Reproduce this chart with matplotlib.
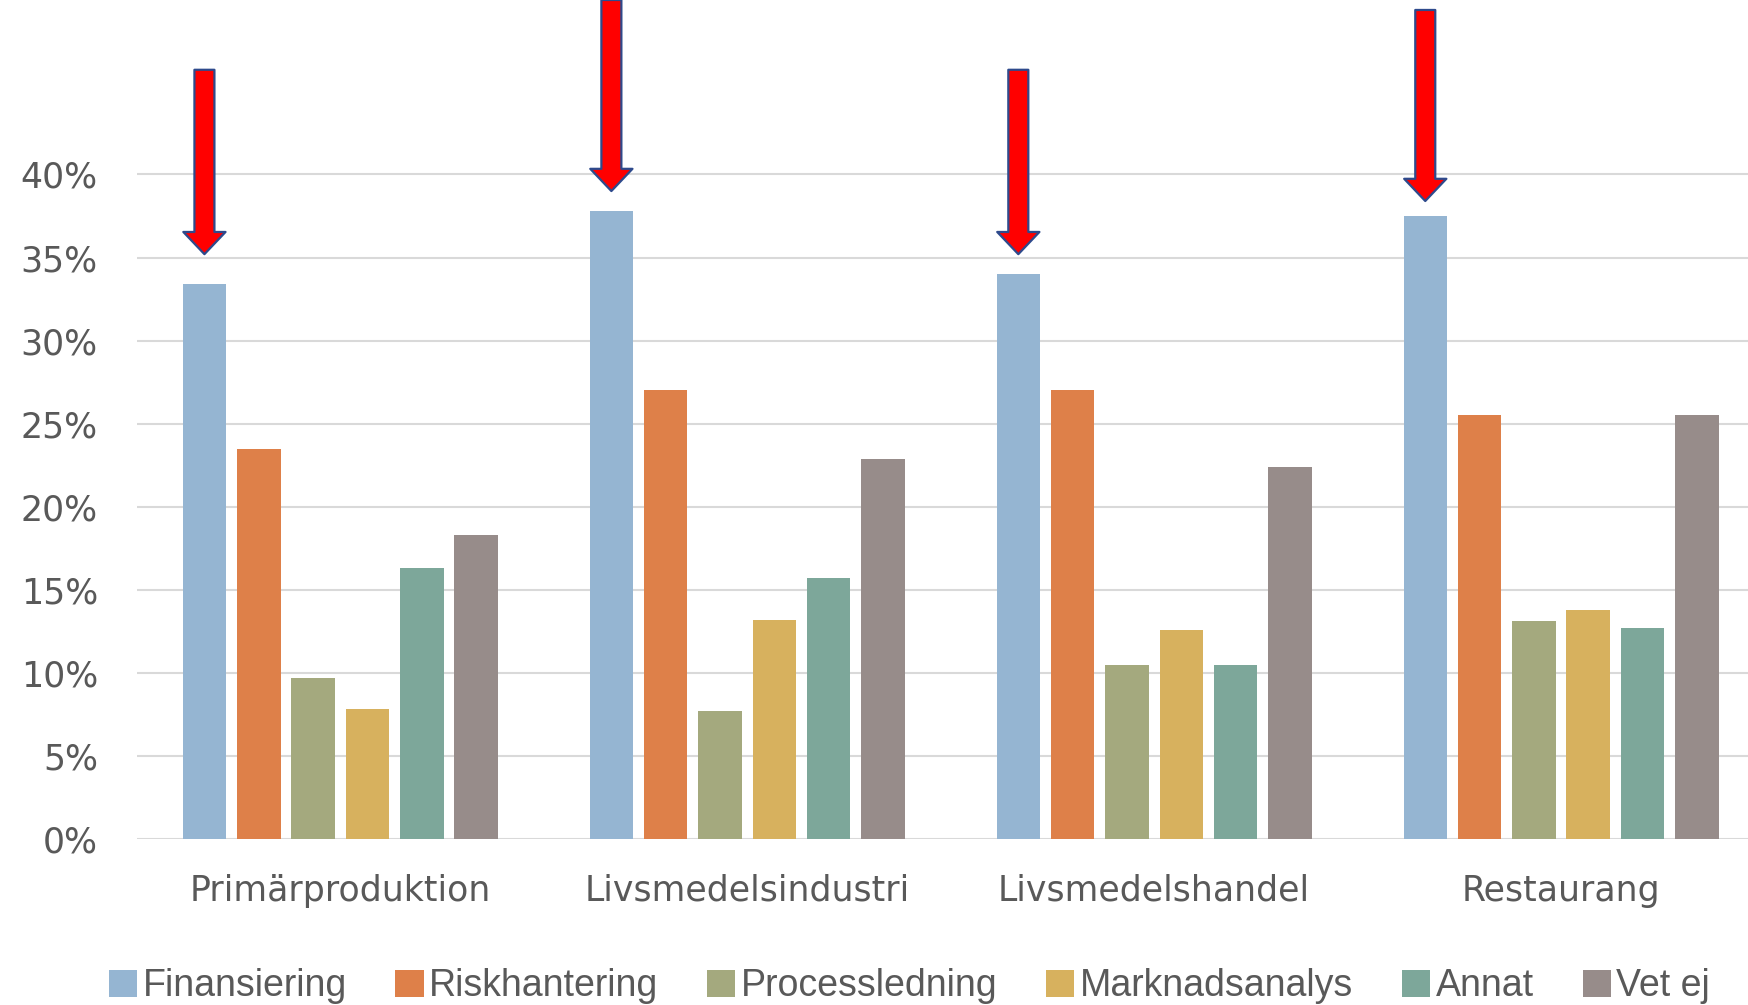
import numpy as np
import matplotlib.pyplot as plt
from matplotlib.ticker import PercentFormatter

# Andel per bransch och område
branscher = ['Primärproduktion', 'Livsmedelsindustri', 'Livsmedelshandel', 'Restaurang']
omraden = ['Finansiering', 'Riskhantering', 'Processledning', 'Marknadsanalys', 'Annat', 'Vet ej']
finansiering = [33.4, 37.8, 34.0, 37.5]
riskhantering = [23.5, 27.0, 27.0, 25.5]
processledning = [9.7, 7.7, 10.5, 13.1]
marknadsanalys = [7.8, 13.2, 12.6, 13.8]
annat = [16.3, 15.7, 10.5, 12.7]
vet_ej = [18.3, 22.9, 22.4, 25.5]

# pilar ovanför finansieringsstaplarna (start, spets) i procent
pil_start = [46.3, 50.5, 46.3, 49.9]
pil_spets = [35.2, 39.0, 35.2, 38.4]

farger = ['#95b5d2', '#de8049', '#a4a97e', '#d7b15e', '#7da79a', '#978c8a']
serier = [finansiering, riskhantering, processledning, marknadsanalys, annat, vet_ej]

plt.rcParams['font.family'] = ['DejaVu Sans']

fig = plt.figure(figsize=(17.49, 10.05), dpi=100)
ax = fig.add_axes([0.0782, 0.1652, 0.9307, 0.8348])

x = np.arange(len(branscher))
steg = 0.1335
bredd = 0.107
for i, (namn, varden) in enumerate(zip(omraden, serier)):
    pos = x + (i - 2.5) * steg
    ax.bar(pos, np.array(varden) / 100, width=bredd, color=farger[i], label=namn, zorder=3)

# röda pilar
fin_pos = x - 2.5 * steg
for xp, y0, y1 in zip(fin_pos, pil_start, pil_spets):
    ax.annotate('', xy=(xp, y1 / 100), xytext=(xp, y0 / 100),
                arrowprops=dict(arrowstyle='simple,head_length=0.8,head_width=1.52,tail_width=0.72',
                                fc='#ff0000', ec='#2e4a8c', lw=1.6,
                                shrinkA=0, shrinkB=0, mutation_scale=20),
                annotation_clip=False, zorder=5)

ax.set_xlim(-0.5, 3.5)
ax.set_ylim(0, 0.505)
ax.set_yticks(np.arange(0, 0.41, 0.05))
ax.yaxis.set_major_formatter(PercentFormatter(1.0, decimals=0))
ax.set_xticks(x)
ax.set_xticklabels(branscher)
ax.grid(axis='y', color='#d9d9d9', lw=1.5, zorder=0)
for s in ax.spines.values():
    s.set_visible(False)
ax.tick_params(axis='y', length=0, pad=28, labelsize=25, labelcolor='#595959')
ax.tick_params(axis='x', length=0, pad=25, labelsize=25, labelcolor='#595959')
ax.axhline(0, color='#d9d9d9', lw=1.8, zorder=2)

leg = fig.legend(loc='lower center', bbox_to_anchor=(0.52, -0.033), ncol=6, frameon=False,
                 handlelength=0.75, handleheight=0.75, handletextpad=0.15,
                 columnspacing=1.3, labelcolor='#595959',
                 prop={'family': ['Liberation Sans', 'DejaVu Sans'], 'size': 27})

fig.savefig('out.png', dpi=100)
